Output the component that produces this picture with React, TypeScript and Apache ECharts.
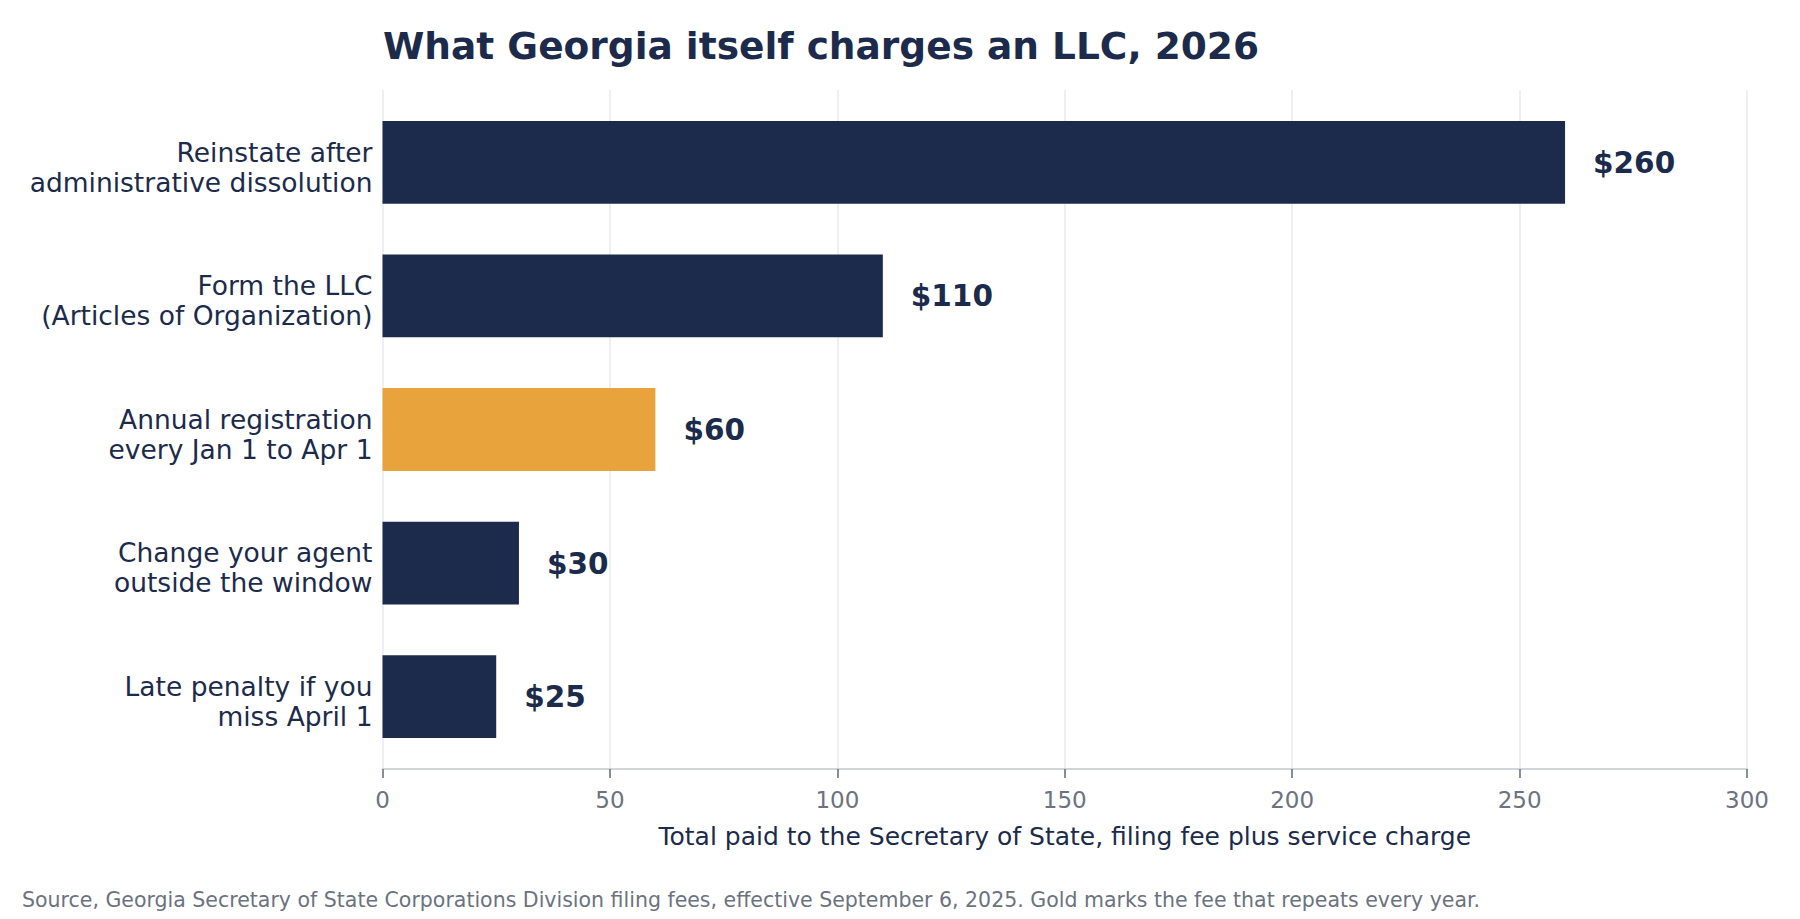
import React, { useEffect, useRef } from "react";
import * as echarts from "echarts";

const TITLE = "What Georgia itself charges an LLC, 2026";
const X_NAME = "Total paid to the Secretary of State, filing fee plus service charge";
const FOOTNOTE =
  "Source, Georgia Secretary of State Corporations Division filing fees, effective September 6, 2025. Gold marks the fee that repeats every year.";

const categories = [
  "Reinstate after\nadministrative dissolution",
  "Form the LLC\n(Articles of Organization)",
  "Annual registration\nevery Jan 1 to Apr 1",
  "Change your agent\noutside the window",
  "Late penalty if you\nmiss April 1",
];
const fees = [260, 110, 60, 30, 25];
const recurring = [false, false, true, false, false];
const xMin = 0;
const xMax = 300;
const xStep = 50;

const NAVY = "#1c2b4b";
const GOLD = "#e8a33c";
const GRAY = "#6b7280";
const FONT = "DejaVu Sans";

export default function App() {
  const ref = useRef<HTMLDivElement>(null);
  useEffect(() => {
    document.body.style.margin = "0";
    if (!ref.current) return;
    const chart = echarts.init(ref.current, undefined, { renderer: "svg" });
    const labelShift = 4.8;
    const option: any = {
      animation: false,
      backgroundColor: "#ffffff",
      textStyle: { fontFamily: FONT },
      grid: [
        { left: 382.5, right: 53, top: 90, bottom: 150 },
        { left: 382.5, right: 53, top: 95.5, bottom: 155.5 },
        { left: 382.5, right: 53, top: 95.5 + labelShift, bottom: 155.5 - labelShift },
      ],
      xAxis: [
        {
          gridIndex: 0,
          type: "value",
          min: xMin,
          max: xMax,
          interval: xStep,
          axisLine: { show: true, lineStyle: { color: "#d1d5db", width: 2 } },
          axisTick: { show: true, length: 9, lineStyle: { color: GRAY, width: 1.6 } },
          axisLabel: { fontSize: 23, color: GRAY, margin: 19, fontFamily: FONT, lineHeight: 23 },
          splitLine: { show: true, lineStyle: { color: "#e8eaee", width: 1.5 } },
          name: X_NAME,
          nameLocation: "middle",
          nameGap: 67,
          nameTextStyle: {
            fontSize: 25,
            color: NAVY,
            fontFamily: FONT,
            verticalAlign: "middle",
            lineHeight: 25,
          },
        },
        { gridIndex: 1, type: "value", min: xMin, max: xMax, show: false },
        { gridIndex: 2, type: "value", min: xMin, max: xMax, show: false },
      ],
      yAxis: [
        { gridIndex: 0, type: "value", show: false },
        {
          gridIndex: 1,
          type: "category",
          inverse: true,
          data: categories,
          axisLine: { show: false },
          axisTick: { show: false },
          splitLine: { show: false },
          axisLabel: { show: false },
        },
        {
          gridIndex: 2,
          type: "category",
          inverse: true,
          data: categories,
          axisLine: { show: false },
          axisTick: { show: false },
          splitLine: { show: false },
          axisLabel: {
            fontSize: 26.5,
            lineHeight: 30,
            color: NAVY,
            margin: 10,
            align: "right",
            fontFamily: FONT,
          },
        },
      ],
      series: [
        {
          type: "bar",
          xAxisIndex: 1,
          yAxisIndex: 1,
          barWidth: "62%",
          data: fees.map((v, i) => ({
            value: v,
            itemStyle: { color: recurring[i] ? GOLD : NAVY },
          })),
          label: {
            show: true,
            position: "right",
            distance: 28,
            offset: [0, 0.5],
            formatter: (p: any) => "$" + p.value,
            fontSize: 29.5,
            fontWeight: "bold",
            color: NAVY,
            fontFamily: FONT,
          },
        },
      ],
      graphic: [
        {
          type: "text",
          left: 383,
          top: 27,
          style: {
            text: TITLE,
            font: `bold 37.5px '${FONT}'`,
            fill: NAVY,
            lineHeight: 38,
          },
        },
        {
          type: "text",
          left: 22,
          top: 889,
          style: {
            text: FOOTNOTE,
            font: `20.5px '${FONT}'`,
            fill: GRAY,
            lineHeight: 21,
          },
        },
      ],
    };
    chart.setOption(option);
    return () => chart.dispose();
  }, []);
  return <div ref={ref} style={{ width: 1800, height: 919 }} />;
}
